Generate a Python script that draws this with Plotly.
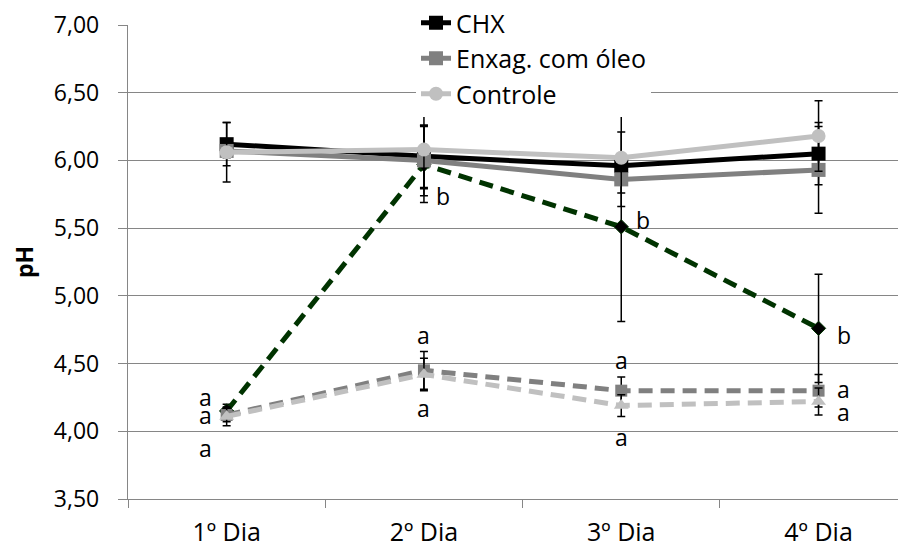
import plotly.graph_objects as go

dias = ["1º Dia", "2º Dia", "3º Dia", "4º Dia"]

chx = [6.12, 6.03, 5.96, 6.05]
chx_err = [0.16, 0.23, 0.08, 0.23]
oleo = [6.07, 6.00, 5.86, 5.93]
oleo_err = [0.05, 0.26, 0.10, 0.32]
controle = [6.06, 6.08, 6.02, 6.18]
controle_err = [0.22, 0.29, 0.36, 0.26]

verde = [4.15, 5.97, 5.51, 4.76]
verde_err = [0.05, 0.28, 0.70, 0.40]
cinza = [4.12, 4.45, 4.30, 4.30]
cinza_err = [0.05, 0.14, 0.10, 0.12]
claro = [4.11, 4.42, 4.19, 4.22]
claro_err = [0.07, 0.12, 0.08, 0.10]

# significance letters
letras_x = [0, 0, 0, 1, 1, 1, 2, 2, 2, 3, 3, 3]
letras_y = [4.25, 4.12, 3.88, 4.71, 4.17, 5.74, 4.53, 3.96, 5.56, 4.71, 4.31, 4.14]
letras_t = ["a", "a", "a", "a", "a", "b", "a", "a", "b", "b", "a", "a"]
letras_dx = [-21, -21, -21, 0, 0, 19, 0, 0, 22, 25, 25, 25]

FONT = "Open Sans"
FS = 23

fig = go.Figure()

def err(arr):
    return dict(type="data", array=arr, visible=True, color="black", thickness=1.5, width=4)

DASH = "14px,8px"
fig.add_trace(go.Scatter(x=dias, y=verde, name="Série 4", mode="lines+markers",
                         line=dict(color="#003300", width=5, dash=DASH),
                         marker=dict(symbol="diamond", size=11, color="black",
                                     line=dict(color="#003300", width=1)),
                         error_y=err(verde_err), showlegend=False))
fig.add_trace(go.Scatter(x=dias, y=cinza, name="Série 5", mode="lines+markers",
                         line=dict(color="#808080", width=5, dash=DASH),
                         marker=dict(symbol="square", size=12, color="#808080"),
                         error_y=err(cinza_err), showlegend=False))
fig.add_trace(go.Scatter(x=dias, y=claro, name="Série 6", mode="lines+markers",
                         line=dict(color="#C0C0C0", width=5, dash=DASH),
                         marker=dict(symbol="triangle-up", size=13, color="#C0C0C0"),
                         error_y=err(claro_err), showlegend=False))

fig.add_trace(go.Scatter(x=dias, y=chx, name="CHX", mode="lines+markers",
                         line=dict(color="black", width=5),
                         marker=dict(symbol="square", size=14, color="black"),
                         error_y=err(chx_err), legendgroup="g1"))
fig.add_trace(go.Scatter(x=dias, y=oleo, name="Enxag. com óleo", mode="lines+markers",
                         line=dict(color="#808080", width=5),
                         marker=dict(symbol="square", size=14, color="#808080"),
                         error_y=err(oleo_err), legendgroup="g2"))
fig.add_trace(go.Scatter(x=dias, y=controle, name="Controle", mode="lines+markers",
                         line=dict(color="#C0C0C0", width=5),
                         marker=dict(symbol="circle", size=14, color="#C0C0C0"),
                         error_y=err(controle_err), legendgroup="g3"))

for xi, yi, t, dx in zip(letras_x, letras_y, letras_t, letras_dx):
    fig.add_annotation(x=dias[xi], y=yi, text=t, showarrow=False, xshift=dx,
                       font=dict(family=FONT, size=FS, color="black"))

# page has an 8px body margin: figure is sized/offset to compensate
W, H = 898, 543
L = 120
plot_w = W - L
band = 197.3
bottom = 491
top = 17
fig.update_layout(
    width=W, height=H,
    margin=dict(l=L, r=0, t=0, b=H - bottom, autoexpand=False),
    paper_bgcolor="white", plot_bgcolor="white",
    separators=",.",
    font=dict(family=FONT, size=FS, color="black"),
    showlegend=True,
    legend=dict(x=(408 - L) / plot_w, xanchor="left",
                y=1 + 8 / bottom, yanchor="top",
                bgcolor="white", font=dict(family=FONT, size=25, color="black"),
                traceorder="grouped", tracegroupgap=0, itemwidth=30,
                borderwidth=0),
    xaxis=dict(type="category", range=[-0.5, -0.5 + plot_w / band], automargin=False,
               showgrid=False, showline=True, linecolor="#868686", linewidth=1.3,
               ticks="outside", tickson="boundaries", ticklen=8, tickcolor="#868686",
               tickwidth=1.3, ticklabelstandoff=11,
               tickfont=dict(family=FONT, size=25, color="black")),
    yaxis=dict(range=[3.5, 7.0], dtick=0.5, tick0=3.5, tickformat=".2f",
               domain=[0, (bottom - top) / bottom], automargin=False,
               showgrid=True, gridcolor="#868686", gridwidth=1.3,
               showline=True, linecolor="#868686", linewidth=1.3,
               ticks="outside", ticklen=9, tickcolor="#868686", tickwidth=1.3,
               ticklabelstandoff=14, zeroline=False,
               tickfont=dict(family=FONT, size=FS, color="black"),
               title=dict(text="<b>pH</b>", standoff=16,
                          font=dict(family=FONT, size=FS, color="black"))),
)

fig.write_html("out.html")
